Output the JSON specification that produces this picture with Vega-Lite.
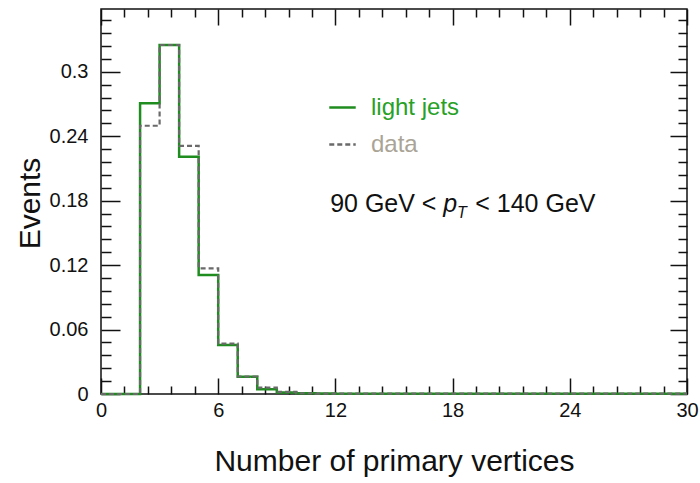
{
  "$schema": "https://vega.github.io/schema/vega-lite/v6.json",
  "width": 586,
  "height": 385,
  "autosize": {"type": "none"},
  "padding": {"left": 101, "top": 9, "right": 13, "bottom": 89},
  "background": "white",
  "config": {
    "view": {"stroke": "#111", "strokeWidth": 1.5},
    "font": "Liberation Sans",
    "axis": {
      "domain": false, "grid": false,
      "labelFont": "Liberation Sans", "titleFont": "Liberation Sans",
      "labelColor": "#111", "titleColor": "#111", "tickColor": "#111",
      "tickWidth": 1.5, "labelFontSize": 20, "titleFontSize": 30, "titleFontWeight": "normal"
    }
  },
  "datasets": {
    "hist": [
      {"nPV": 0, "series": "light jets", "events": 0},
      {"nPV": 1, "series": "light jets", "events": 0},
      {"nPV": 2, "series": "light jets", "events": 0.2707},
      {"nPV": 3, "series": "light jets", "events": 0.325},
      {"nPV": 4, "series": "light jets", "events": 0.221},
      {"nPV": 5, "series": "light jets", "events": 0.1108},
      {"nPV": 6, "series": "light jets", "events": 0.0456},
      {"nPV": 7, "series": "light jets", "events": 0.0161},
      {"nPV": 8, "series": "light jets", "events": 0.0044},
      {"nPV": 9, "series": "light jets", "events": 0.0015},
      {"nPV": 10, "series": "light jets", "events": 0.0006},
      {"nPV": 11, "series": "light jets", "events": 0.0004},
      {"nPV": 12, "series": "light jets", "events": 0.0003},
      {"nPV": 13, "series": "light jets", "events": 0.0003},
      {"nPV": 14, "series": "light jets", "events": 0.0003},
      {"nPV": 15, "series": "light jets", "events": 0.0003},
      {"nPV": 16, "series": "light jets", "events": 0.0003},
      {"nPV": 17, "series": "light jets", "events": 0.0003},
      {"nPV": 18, "series": "light jets", "events": 0.0003},
      {"nPV": 19, "series": "light jets", "events": 0.0003},
      {"nPV": 20, "series": "light jets", "events": 0.0003},
      {"nPV": 21, "series": "light jets", "events": 0.0003},
      {"nPV": 22, "series": "light jets", "events": 0.0003},
      {"nPV": 23, "series": "light jets", "events": 0.0003},
      {"nPV": 24, "series": "light jets", "events": 0.0003},
      {"nPV": 25, "series": "light jets", "events": 0.0003},
      {"nPV": 26, "series": "light jets", "events": 0.0003},
      {"nPV": 27, "series": "light jets", "events": 0.0003},
      {"nPV": 28, "series": "light jets", "events": 0.0003},
      {"nPV": 29, "series": "light jets", "events": 0.0003},
      {"nPV": 30, "series": "light jets", "events": 0.0003},
      {"nPV": 0, "series": "data", "events": 0},
      {"nPV": 1, "series": "data", "events": 0},
      {"nPV": 2, "series": "data", "events": 0.2498},
      {"nPV": 3, "series": "data", "events": 0.325},
      {"nPV": 4, "series": "data", "events": 0.231},
      {"nPV": 5, "series": "data", "events": 0.117},
      {"nPV": 6, "series": "data", "events": 0.047},
      {"nPV": 7, "series": "data", "events": 0.0163},
      {"nPV": 8, "series": "data", "events": 0.006},
      {"nPV": 9, "series": "data", "events": 0.002},
      {"nPV": 10, "series": "data", "events": 0.0007},
      {"nPV": 11, "series": "data", "events": 0.0004},
      {"nPV": 12, "series": "data", "events": 0.0003},
      {"nPV": 13, "series": "data", "events": 0.0003},
      {"nPV": 14, "series": "data", "events": 0.0003},
      {"nPV": 15, "series": "data", "events": 0.0003},
      {"nPV": 16, "series": "data", "events": 0.0003},
      {"nPV": 17, "series": "data", "events": 0.0003},
      {"nPV": 18, "series": "data", "events": 0.0003},
      {"nPV": 19, "series": "data", "events": 0.0003},
      {"nPV": 20, "series": "data", "events": 0.0003},
      {"nPV": 21, "series": "data", "events": 0.0003},
      {"nPV": 22, "series": "data", "events": 0.0003},
      {"nPV": 23, "series": "data", "events": 0.0003},
      {"nPV": 24, "series": "data", "events": 0.0003},
      {"nPV": 25, "series": "data", "events": 0.0003},
      {"nPV": 26, "series": "data", "events": 0.0003},
      {"nPV": 27, "series": "data", "events": 0.0003},
      {"nPV": 28, "series": "data", "events": 0.0003},
      {"nPV": 29, "series": "data", "events": 0.0003},
      {"nPV": 30, "series": "data", "events": 0.0003}
    ],
    "note": [
      {"part": "lead", "txt": "90 GeV <"},
      {"part": "p", "txt": "p"},
      {"part": "T", "txt": "T"},
      {"part": "tail", "txt": "< 140 GeV"}
    ]
  },
  "layer": [
    {
      "data": {"name": "hist"},
      "transform": [{"filter": "datum.series === 'light jets'"}],
      "mark": {"type": "line", "interpolate": "step-after", "strokeWidth": 2.5},
      "encoding": {
        "x": {
          "field": "nPV", "type": "quantitative",
          "scale": {"domain": [0, 30], "nice": false, "zero": false},
          "axis": {
            "orient": "bottom",
            "title": "Number of primary vertices",
            "values": [0, 1.2, 2.4, 3.6, 4.8, 6, 7.2, 8.4, 9.6, 10.8, 12, 13.2, 14.4, 15.6, 16.8, 18, 19.2, 20.4, 21.6, 22.8, 24, 25.2, 26.4, 27.6, 28.8, 30],
            "labelExpr": "datum.value % 6 === 0 ? format(datum.value, 'd') : ''",
            "tickSize": {"condition": {"test": "datum.value % 6 === 0", "value": -16}, "value": -8},
            "labelPadding": 22,
            "labelFlush": false,
            "labelOverlap": false,
            "titleY": 76,
            "titleBaseline": "alphabetic"
          }
        },
        "y": {
          "field": "events", "type": "quantitative",
          "scale": {"domain": [0, 0.3585], "nice": false},
          "axis": {
            "orient": "left",
            "title": "Events",
            "values": [0, 0.012, 0.024, 0.036, 0.048, 0.06, 0.072, 0.084, 0.096, 0.108, 0.12, 0.132, 0.144, 0.156, 0.168, 0.18, 0.192, 0.204, 0.216, 0.228, 0.24, 0.252, 0.264, 0.276, 0.288, 0.3, 0.312, 0.324, 0.336, 0.348],
            "labelExpr": "abs(datum.value / 0.06 - round(datum.value / 0.06)) < 1e-6 ? format(datum.value, '~g') : ''",
            "tickSize": {"condition": {"test": "abs(datum.value / 0.06 - round(datum.value / 0.06)) < 1e-6", "value": -19}, "value": -10},
            "labelPadding": 32,
            "labelFlush": false,
            "labelOverlap": false,
            "titleX": -71,
            "titleY": 194,
            "titleAngle": -90,
            "titleAlign": "center",
            "titleBaseline": "middle"
          }
        },
        "color": {
          "field": "series", "type": "nominal",
          "scale": {"domain": ["light jets", "data"], "range": ["#1e8c1e", "#6a6a6a"]},
          "legend": {
            "title": null,
            "orient": "none",
            "legendX": 227,
            "legendY": 84,
            "symbolType": "stroke",
            "symbolSize": 700,
            "symbolStrokeWidth": 2.5,
            "labelFontSize": 24,
            "labelFont": "Liberation Sans",
            "labelOffset": 14,
            "rowPadding": 10,
            "encode": {
              "labels": {"update": {"fill": {"signal": "datum.label === 'light jets' ? '#27a127' : '#aaa496'"}}},
              "symbols": {"update": {"stroke": {"signal": "datum.label === 'light jets' ? '#1e8c1e' : '#a8a8a8'"}}}
            }
          }
        },
        "strokeDash": {
          "field": "series", "type": "nominal",
          "scale": {"domain": ["light jets", "data"], "range": [[1, 0], [5, 3]]}
        }
      }
    },
    {
      "data": {"name": "hist"},
      "transform": [{"filter": "datum.series === 'data'"}],
      "mark": {"type": "line", "interpolate": "step-after", "strokeWidth": 2.2},
      "encoding": {
        "x": {
          "field": "nPV", "type": "quantitative",
          "axis": {
            "orient": "top",
            "title": null,
            "labels": false,
            "values": [0, 1.2, 2.4, 3.6, 4.8, 6, 7.2, 8.4, 9.6, 10.8, 12, 13.2, 14.4, 15.6, 16.8, 18, 19.2, 20.4, 21.6, 22.8, 24, 25.2, 26.4, 27.6, 28.8, 30],
            "tickSize": {"condition": {"test": "datum.value % 6 === 0", "value": -16}, "value": -8}
          }
        },
        "y": {
          "field": "events", "type": "quantitative",
          "axis": {
            "orient": "right",
            "title": null,
            "labels": false,
            "values": [0, 0.012, 0.024, 0.036, 0.048, 0.06, 0.072, 0.084, 0.096, 0.108, 0.12, 0.132, 0.144, 0.156, 0.168, 0.18, 0.192, 0.204, 0.216, 0.228, 0.24, 0.252, 0.264, 0.276, 0.288, 0.3, 0.312, 0.324, 0.336, 0.348],
            "tickSize": {"condition": {"test": "abs(datum.value / 0.06 - round(datum.value / 0.06)) < 1e-6", "value": -17}, "value": -9}
          }
        },
        "color": {"field": "series", "type": "nominal"},
        "strokeDash": {"field": "series", "type": "nominal"}
      }
    },
    {
      "data": {"name": "note"},
      "transform": [{"filter": "datum.part === 'lead'"}],
      "mark": {"type": "text", "align": "left", "baseline": "alphabetic", "fontSize": 25, "font": "Liberation Sans", "color": "#111"},
      "encoding": {
        "x": {"datum": 11.73, "type": "quantitative", "axis": null},
        "y": {"datum": 0.1697, "type": "quantitative", "axis": null},
        "text": {"field": "txt"}
      }
    },
    {
      "data": {"name": "note"},
      "transform": [{"filter": "datum.part === 'p'"}],
      "mark": {"type": "text", "align": "left", "baseline": "alphabetic", "fontSize": 25, "fontStyle": "italic", "font": "Liberation Sans", "color": "#111"},
      "encoding": {
        "x": {"datum": 17.52, "type": "quantitative", "axis": null},
        "y": {"datum": 0.1697, "type": "quantitative", "axis": null},
        "text": {"field": "txt"}
      }
    },
    {
      "data": {"name": "note"},
      "transform": [{"filter": "datum.part === 'T'"}],
      "mark": {"type": "text", "align": "left", "baseline": "alphabetic", "fontSize": 16, "fontStyle": "italic", "font": "Liberation Sans", "color": "#111"},
      "encoding": {
        "x": {"datum": 18.23, "type": "quantitative", "axis": null},
        "y": {"datum": 0.1639, "type": "quantitative", "axis": null},
        "text": {"field": "txt"}
      }
    },
    {
      "data": {"name": "note"},
      "transform": [{"filter": "datum.part === 'tail'"}],
      "mark": {"type": "text", "align": "left", "baseline": "alphabetic", "fontSize": 25, "font": "Liberation Sans", "color": "#111"},
      "encoding": {
        "x": {"datum": 19.16, "type": "quantitative", "axis": null},
        "y": {"datum": 0.1697, "type": "quantitative", "axis": null},
        "text": {"field": "txt"}
      }
    }
  ],
  "resolve": {"axis": {"x": "independent", "y": "independent"}}
}
